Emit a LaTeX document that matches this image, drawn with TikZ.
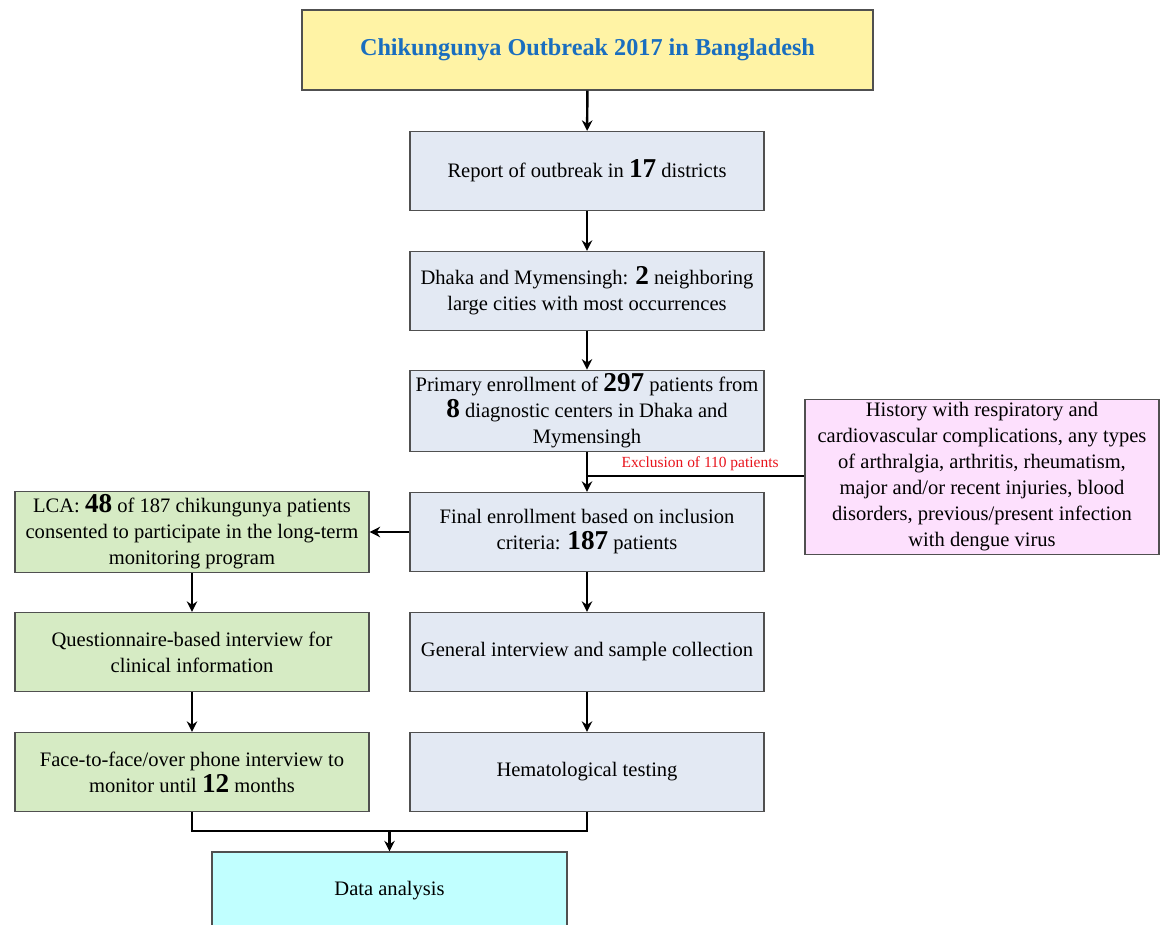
\documentclass[tikz,border=0pt]{standalone}
\usepackage{fontspec}
\setmainfont{Liberation Serif}
\usetikzlibrary{arrows.meta}
\definecolor{titlefill}{HTML}{FFF3A5}
\definecolor{titletext}{HTML}{1A6EBF}
\definecolor{bluefill}{HTML}{E3E9F3}
\definecolor{greenfill}{HTML}{D6EBC4}
\definecolor{pinkfill}{HTML}{FDE0FD}
\definecolor{cyanfill}{HTML}{C1FFFF}
\definecolor{boxline}{HTML}{505050}
\definecolor{exred}{HTML}{E8141C}
\newcommand\bignum[1]{{\fontsize{15.5}{15}\selectfont\bfseries #1}}
\begin{document}
\begin{tikzpicture}[x=0.02cm,y=-0.02cm,
  box/.style={draw=boxline, line width=0.7pt, minimum width=7.08cm, minimum height=1.58cm,
    align=center, inner sep=2pt, font=\fontsize{11.7}{14.8}\selectfont},
  bluebox/.style={box, fill=bluefill},
  greenbox/.style={box, fill=greenfill},
  ln/.style={line width=1.4pt, black},
  arr/.style={ln, -{Stealth[length=6pt,width=6pt]}}]
\useasboundingbox (0,0) rectangle (1163,925);
\clip (0,0) rectangle (1163,925);

\node[box, fill=titlefill, minimum width=11.42cm, minimum height=1.6cm,
  font=\fontsize{13.8}{17}\selectfont\bfseries, text=titletext] (title) at (587.5,50) {Chikungunya Outbreak 2017 in Bangladesh};

\node[bluebox] (report) at (587,171) {Report of outbreak in \bignum{17} districts};
\node[bluebox] (dhaka) at (587,291) {Dhaka and Mymensingh: \bignum{2} neighboring\\large cities with most occurrences};
\node[bluebox] (primary) at (587,411) {Primary enrollment of \bignum{297} patients from\\\bignum{8} diagnostic centers in Dhaka and\\Mymensingh};
\node[bluebox] (final) at (587,532) {Final enrollment based on inclusion\\criteria: \bignum{187} patients};
\node[bluebox] (general) at (587,652) {General interview and sample collection};
\node[bluebox] (hema) at (587,772) {Hematological testing};

\node[greenbox] (lca) at (192,532) {LCA: \bignum{48} of 187 chikungunya patients\\consented to participate in the long-term\\monitoring program};
\node[greenbox] (quest) at (192,652) {Questionnaire-based interview for\\clinical information};
\node[greenbox] (face) at (192,772) {Face-to-face/over phone interview to\\monitor until \bignum{12} months};

\node[box, fill=pinkfill, minimum height=2.98cm] (pink) at (982,477) {History with respiratory and\\cardiovascular complications, any types\\of arthralgia, arthritis, rheumatism,\\major and/or recent injuries, blood\\disorders, previous/present infection\\with dengue virus};

\node[box, fill=cyanfill, minimum width=7.1cm, minimum height=1.56cm] (data) at (389.5,891) {Data analysis};

\draw[arr] (title) -- (report);
\draw[arr] (report) -- (dhaka);
\draw[arr] (dhaka) -- (primary);
\draw[arr] (primary) -- (final);
\coordinate (exc) at (587,476);
\draw[ln] (exc) -- (exc -| pink.west) node[pos=0.52, above=-1pt, text=exred, font=\fontsize{8.8}{10}\selectfont] {Exclusion of 110 patients};
\draw[arr] (final) -- (lca);
\draw[arr] (final) -- (general);
\draw[arr] (general) -- (hema);
\draw[arr] (lca) -- (quest);
\draw[arr] (quest) -- (face);
\coordinate (join) at (389.5,831);
\draw[ln] (face.south) -- (face.south |- join) -- (hema.south |- join) -- (hema.south);
\draw[arr] (join) -- (data.north);
\end{tikzpicture}
\end{document}
